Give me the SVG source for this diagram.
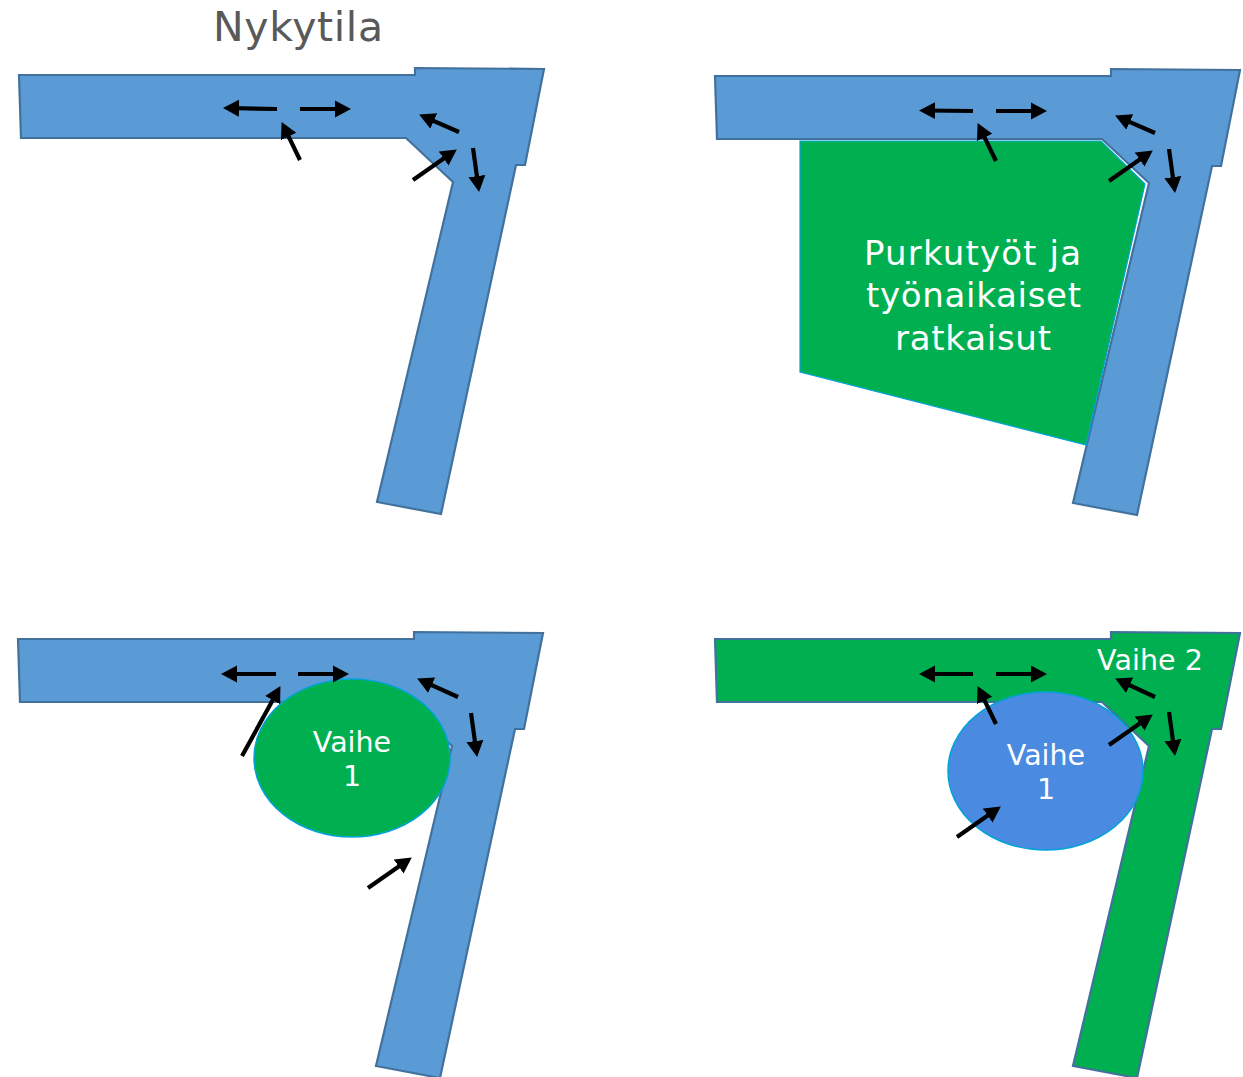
<svg xmlns="http://www.w3.org/2000/svg" xmlns:xlink="http://www.w3.org/1999/xlink" width="1243" height="1077" viewBox="0 0 1243 1077">
<style>
.road{stroke:#41719c;stroke-width:2.2;stroke-linejoin:miter}
.blue{fill:#5b9bd5}
.green{fill:#00b050}
.zone{stroke:#00a3d9;stroke-width:1.5}
.arrow{fill:none;stroke:#000;stroke-width:4.2;marker-end:url(#head)}
text{font-family:"DejaVu Sans",Verdana,sans-serif;text-anchor:middle;fill:#fff}
</style>
<defs>
<marker id="head" markerUnits="userSpaceOnUse" markerWidth="20" markerHeight="20" refX="11" refY="9" orient="auto"><path d="M0,0.5L16,9L0,17.5Z" fill="#000"/></marker>
<polygon id="shape" points="19,75 415,75 415,68 544,69 525,165 516,165 441,514 377,502 453,182 406,138 21,138"/>
</defs>
<g id="title"><text x="298" y="41" font-size="41" textLength="170" lengthAdjust="spacing" style="fill:#595959">Nykytila</text></g>
<g id="road-1"><use xlink:href="#shape" class="road blue"/></g>
<g id="road-2"><use xlink:href="#shape" class="road blue" transform="translate(696,1)"/></g>
<g id="work-area"><polygon class="green" points="800,141 1101,141 1145,184 1086,445 800,372" stroke="#00a3d9" stroke-width="1.2"/>
<text font-size="34" x="972.5" y="265" textLength="217">Purkutyöt ja</text><text font-size="34" x="973.5" y="307" textLength="215">työnaikaiset</text><text font-size="34" x="973" y="350" textLength="156">ratkaisut</text></g>
<g id="road-3"><use xlink:href="#shape" class="road blue" transform="translate(-1,564)"/></g>
<g id="phase-1a"><ellipse class="green zone" cx="352" cy="758" rx="98" ry="79"/><text font-size="28.5" x="352" y="752">Vaihe</text><text font-size="28.5" x="352" y="786">1</text></g>
<g id="road-4"><use xlink:href="#shape" class="road green" transform="translate(696,564)"/><text font-size="28.5" x="1150" y="670" textLength="106">Vaihe 2</text></g>
<g id="phase-1b"><ellipse class="zone" fill="#4a8ae0" cx="1045.5" cy="771" rx="97.5" ry="79"/><text font-size="28.5" x="1046" y="765">Vaihe</text><text font-size="28.5" x="1046" y="799">1</text></g>
<g id="connectors">
<line class="arrow" x1="277" y1="109" x2="228" y2="108"/>
<line class="arrow" x1="300" y1="109" x2="346" y2="109"/>
<line class="arrow" x1="300" y1="160" x2="283.8" y2="126.6"/>
<line class="arrow" x1="459" y1="132" x2="423.7" y2="116.6"/>
<line class="arrow" x1="413" y1="180" x2="452.7" y2="152.3"/>
<line class="arrow" x1="473" y1="148" x2="478.4" y2="187"/>
<line class="arrow" x1="973" y1="111" x2="924" y2="110.5"/>
<line class="arrow" x1="996" y1="111" x2="1042" y2="111"/>
<line class="arrow" x1="996" y1="161" x2="979.8" y2="127.6"/>
<line class="arrow" x1="1155" y1="133" x2="1119.7" y2="117.6"/>
<line class="arrow" x1="1109" y1="181" x2="1148.7" y2="153.3"/>
<line class="arrow" x1="1169" y1="149" x2="1174.4" y2="188"/>
<line class="arrow" x1="276" y1="674" x2="226" y2="674"/>
<line class="arrow" x1="298" y1="674" x2="344" y2="674"/>
<line class="arrow" x1="242" y1="756" x2="278" y2="690.5"/>
<line class="arrow" x1="458" y1="697" x2="421.7" y2="680.6"/>
<line class="arrow" x1="471" y1="713" x2="476.4" y2="752"/>
<line class="arrow" x1="368" y1="888" x2="407.7" y2="860.3"/>
<line class="arrow" x1="973" y1="674" x2="924" y2="674"/>
<line class="arrow" x1="996" y1="674" x2="1042" y2="674"/>
<line class="arrow" x1="996" y1="724" x2="979.8" y2="690.6"/>
<line class="arrow" x1="1155" y1="697" x2="1119.7" y2="680.6"/>
<line class="arrow" x1="1109" y1="745" x2="1148.7" y2="717.3"/>
<line class="arrow" x1="1169" y1="712" x2="1174.4" y2="751"/>
<line class="arrow" x1="957" y1="837" x2="996.7" y2="809.3"/>
</g>
</svg>
